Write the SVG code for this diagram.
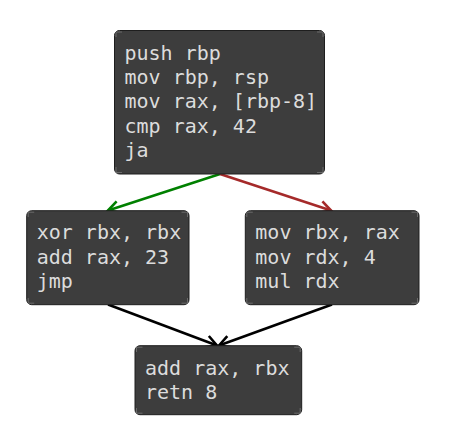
<svg xmlns="http://www.w3.org/2000/svg" width="451" height="434" viewBox="0 0 451 434">
<style>
.box{fill:#3d3d3d;stroke:#1e1e1e;stroke-width:1}
.tick{fill:none;stroke:#6a6a6a;stroke-width:1}
.t{font-family:"DejaVu Sans Mono",monospace;font-size:20px;fill:#dcdcdc}
.e{fill:none;stroke-width:2.6}
</style>
<defs>
<marker id="ag" markerUnits="userSpaceOnUse" markerWidth="30" markerHeight="30" refX="0" refY="0" viewBox="-15 -15 30 30" orient="auto" overflow="visible"><path d="M-11,-6 L0,0 L-11,6" fill="none" stroke="#008000" stroke-width="2.6"/></marker>
<marker id="ar" markerUnits="userSpaceOnUse" markerWidth="30" markerHeight="30" refX="0" refY="0" viewBox="-15 -15 30 30" orient="auto" overflow="visible"><path d="M-11,-6 L0,0 L-11,6" fill="none" stroke="#a52a2a" stroke-width="2.6"/></marker>
<marker id="ak" markerUnits="userSpaceOnUse" markerWidth="30" markerHeight="30" refX="0" refY="0" viewBox="-15 -15 30 30" orient="auto" overflow="visible"><path d="M-11,-6 L0,0 L-11,6" fill="none" stroke="#000" stroke-width="2.6"/></marker>
</defs>
<rect width="451" height="434" fill="#fff"/>
<g id="connectors">
<line class="e" x1="220" y1="174" x2="108" y2="210.5" stroke="#008000" marker-end="url(#ag)"/>
<line class="e" x1="220" y1="174" x2="331" y2="210.5" stroke="#a52a2a" marker-end="url(#ar)"/>
<line class="e" x1="108" y1="304.5" x2="217" y2="345.5" stroke="#000" marker-end="url(#ak)"/>
<line class="e" x1="332" y1="304.5" x2="219" y2="345.5" stroke="#000" marker-end="url(#ak)"/>
</g>
<g id="n1">
<rect class="box" x="114.5" y="30.5" width="210" height="143.5" rx="5"/>
<path class="tick" d="M116,37V32H122M317,32H323V37M323,167V172.5H317M122,172.5H116V167"/>
<text class="t" x="124.5" y="60">push rbp</text>
<text class="t" x="124.5" y="84.2">mov rbp, rsp</text>
<text class="t" x="124.5" y="108.4">mov rax, [rbp-8]</text>
<text class="t" x="124.5" y="132.6">cmp rax, 42</text>
<text class="t" x="124.5" y="156.8">ja</text>
</g>
<g id="n2">
<rect class="box" x="26.7" y="210.7" width="162.3" height="94" rx="5"/>
<path class="tick" d="M28.2,217V212.2H34.2M181.5,212.2H187.5V217M187.5,298V303.2H181.5M34.2,303.2H28.2V298"/>
<text class="t" x="36.7" y="239.3">xor rbx, rbx</text>
<text class="t" x="36.7" y="263.5">add rax, 23</text>
<text class="t" x="36.7" y="287.7">jmp</text>
</g>
<g id="n3">
<rect class="box" x="245.3" y="210.7" width="173.7" height="94" rx="5"/>
<path class="tick" d="M246.8,217V212.2H252.8M411.5,212.2H417.5V217M417.5,298V303.2H411.5M252.8,303.2H246.8V298"/>
<text class="t" x="255.3" y="239.3">mov rbx, rax</text>
<text class="t" x="255.3" y="263.5">mov rdx, 4</text>
<text class="t" x="255.3" y="287.7">mul rdx</text>
</g>
<g id="n4">
<rect class="box" x="135" y="345.7" width="166.7" height="69" rx="5"/>
<path class="tick" d="M136.5,352V347.2H142.5M294.2,347.2H300.2V352M300.2,408V413.2H294.2M142.5,413.2H136.5V408"/>
<text class="t" x="145" y="375">add rax, rbx</text>
<text class="t" x="145" y="399">retn 8</text>
</g>
</svg>
